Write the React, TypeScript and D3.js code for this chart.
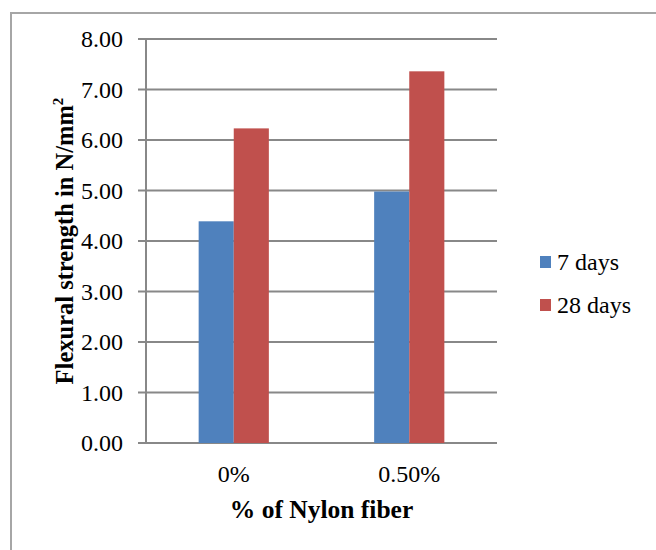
import React from "react";
import * as d3 from "d3";

const categories = ["0%", "0.50%"];
const seriesNames = ["7 days", "28 days"];
const days7 = [4.39, 4.98];
const days28 = [6.23, 7.36];
const yTicks = [0, 1, 2, 3, 4, 5, 6, 7, 8];

const colors = ["#4F81BD", "#C0504D"];
const W = 656;
const H = 550;
const font = "'Liberation Serif', 'Times New Roman', serif";

export default function App() {
  const plot = { left: 146, right: 497, top: 39, bottom: 443 };

  const y = d3.scaleLinear().domain([0, 8]).range([plot.bottom, plot.top]);
  const x0 = d3.scaleBand().domain(categories).range([plot.left, plot.right]).paddingInner(0);
  const x1 = d3
    .scaleBand()
    .domain(seriesNames)
    .range([0, x0.bandwidth()])
    .paddingInner(0)
    .paddingOuter(1.5);

  const values = [days7, days28];

  return (
    <svg
      width={W}
      height={H}
      style={{ position: "absolute", left: 0, top: 0, background: "#fff" }}
      fontFamily={font}
    >
      {/* frame */}
      <rect x={11} y={13} width={W} height={H} fill="none" stroke="#a6a6a6" strokeWidth={2} />

      {/* gridlines + ticks */}
      {yTicks.map((t) => (
        <g key={t}>
          <line x1={plot.left - 8} x2={plot.right} y1={y(t)} y2={y(t)} stroke="#888" strokeWidth={2} />
          <text
            x={123}
            y={y(t)}
            dy="0.35em"
            textAnchor="end"
            fontSize={24}
            fill="#000"
          >
            {d3.format(".2f")(t)}
          </text>
        </g>
      ))}

      {/* bars */}
      {categories.map((c, i) => (
        <g key={c} transform={`translate(${x0(c)},0)`}>
          {seriesNames.map((s, j) => (
            <rect
              key={s}
              x={x1(s)}
              y={y(values[j][i])}
              width={x1.bandwidth()}
              height={y(0) - y(values[j][i])}
              fill={colors[j]}
            />
          ))}
        </g>
      ))}

      {/* y axis line */}
      <line x1={plot.left} x2={plot.left} y1={plot.top} y2={plot.bottom} stroke="#888" strokeWidth={2} />

      {/* x labels */}
      {categories.map((c) => (
        <text
          key={c}
          x={(x0(c) as number) + x0.bandwidth() / 2}
          y={482}
          textAnchor="middle"
          fontSize={24}
        >
          {c}
        </text>
      ))}

      {/* axis titles */}
      <text
        x={(plot.left + plot.right) / 2}
        y={518}
        textAnchor="middle"
        fontSize={25.5}
        fontWeight="bold"
      >
        % of Nylon fiber
      </text>
      <text
        transform={`translate(73,${(plot.top + plot.bottom) / 2}) rotate(-90)`}
        textAnchor="middle"
        fontSize={24.5}
        fontWeight="bold"
      >
        Flexural strength in N/mm
        <tspan fontSize={15} dy={-10}>
          2
        </tspan>
      </text>

      {/* legend */}
      {seriesNames.map((s, j) => (
        <g key={s} transform={`translate(540,${256 + j * 43})`}>
          <rect width={11} height={12} fill={colors[j]} />
          <text x={17} y={6} dy="0.35em" fontSize={24}>
            {s}
          </text>
        </g>
      ))}
    </svg>
  );
}
